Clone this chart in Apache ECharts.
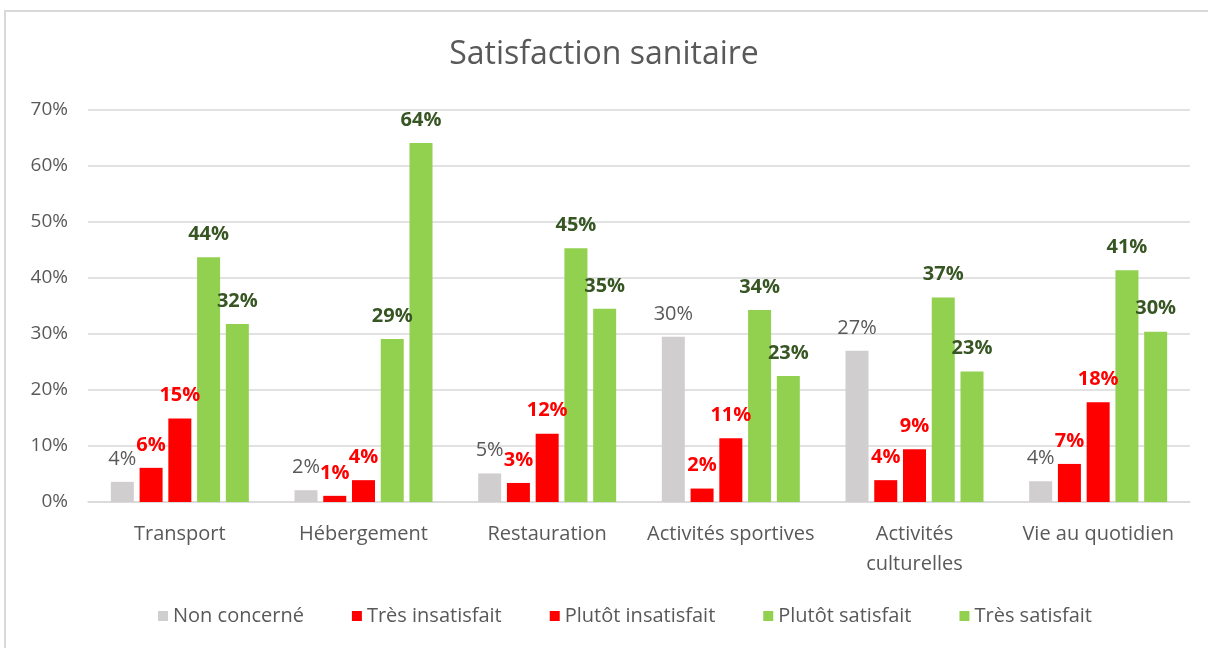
<!DOCTYPE html>
<html>
<head>
<meta charset="utf-8">
<script src="https://cdn.jsdelivr.net/npm/echarts@6/dist/echarts.min.js"></script>
<style>
  html, body { margin: 0; padding: 0; overflow: hidden; background: #fff; }
  #chart { position: absolute; left: 0; top: 0; width: 1208px; height: 648px; }
  #frame {
    position: absolute; left: 4px; top: 10px; width: 1220px; height: 660px;
    border: 2px solid #d9d9d9; pointer-events: none;
  }
</style>
</head>
<body>
<div id="chart"></div>
<div id="frame"></div>
<script>
  // catégories (axe x)
  const categories = ['Transport', 'Hébergement', 'Restauration', 'Activités sportives', 'Activités\nculturelles', 'Vie au quotidien']
  // valeurs en %
  const nonConcerne = [3.6, 2.1, 5.1, 29.5, 27.0, 3.7]
  const tresInsatisfait = [6.1, 1.1, 3.4, 2.4, 3.9, 6.8]
  const plutotInsatisfait = [14.9, 3.9, 12.2, 11.4, 9.4, 17.8]
  const plutotSatisfait = [43.7, 29.1, 45.3, 34.3, 36.5, 41.4]
  const tresSatisfait = [31.8, 64.1, 34.5, 22.5, 23.3, 30.4]
  const yTicks = [0, 10, 20, 30, 40, 50, 60, 70]

  const font = '"Open Sans", sans-serif'
  const grey = '#595959'

  function makeSeries(name, data, color, labelColor, bold) {
    return {
      name: name,
      type: 'bar',
      barWidth: 23,
      barGap: '25%',
      itemStyle: { color: color },
      label: {
        show: true,
        position: 'top',
        distance: 13,
        color: labelColor,
        fontFamily: font,
        fontSize: 20,
        fontWeight: bold ? 'bold' : 'normal',
        formatter(p) {
          return Math.round(p.value) + '%'
        }
      },
      labelLayout: { hideOverlap: false },
      data: data
    }
  }

  const chart = echarts.init(document.getElementById('chart'))
  chart.setOption({
    animation: false,
    title: {
      text: 'Satisfaction sanitaire',
      left: 'center',
      top: 34,
      textStyle: { fontFamily: font, fontSize: 32, fontWeight: 'normal', color: grey }
    },
    legend: {
      top: 601,
      left: 153,
      itemWidth: 10,
      itemHeight: 10,
      itemGap: 48,
      icon: 'rect',
      textStyle: { fontFamily: font, fontSize: 20, color: grey },
      data: ['Non concerné', 'Très insatisfait', 'Plutôt insatisfait', 'Plutôt satisfait', 'Très satisfait']
    },
    grid: { left: 88, right: 18, top: 110, bottom: 146 },
    xAxis: {
      type: 'category',
      data: categories,
      axisTick: { show: false },
      axisLine: { lineStyle: { color: '#d9d9d9', width: 1.5 } },
      axisLabel: {
        interval: 0,
        margin: 17,
        lineHeight: 30,
        fontFamily: font,
        fontSize: 20,
        color: grey
      }
    },
    yAxis: {
      type: 'value',
      min: yTicks[0],
      max: yTicks[yTicks.length - 1],
      interval: 10,
      axisLine: { show: false },
      axisTick: { show: false },
      splitLine: { lineStyle: { color: '#d9d9d9', width: 1.5 } },
      axisLabel: {
        margin: 20,
        fontFamily: font,
        fontSize: 19,
        color: grey,
        formatter: '{value}%'
      }
    },
    series: [
      makeSeries('Non concerné', nonConcerne, '#d0cece', grey, false),
      makeSeries('Très insatisfait', tresInsatisfait, '#ff0000', '#ff0000', true),
      makeSeries('Plutôt insatisfait', plutotInsatisfait, '#ff0000', '#ff0000', true),
      makeSeries('Plutôt satisfait', plutotSatisfait, '#92d050', '#375623', true),
      makeSeries('Très satisfait', tresSatisfait, '#92d050', '#375623', true)
    ]
  })
</script>
</body>
</html>
